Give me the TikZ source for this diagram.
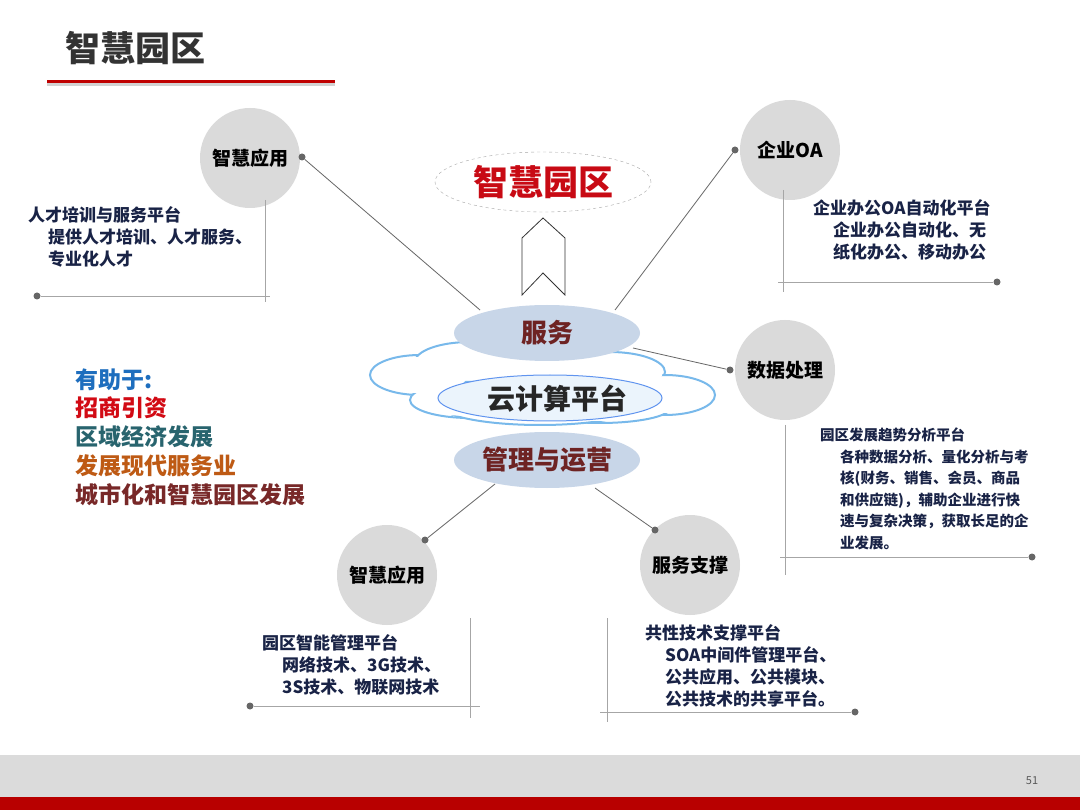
\documentclass[tikz,border=0pt]{standalone}
\usepackage{fontspec}
\setmainfont{Noto Sans CJK SC}
\usetikzlibrary{shapes.geometric}
\definecolor{navy}{RGB}{25,35,70}
\definecolor{circ}{RGB}{218,218,218}
\definecolor{ellf}{RGB}{200,214,232}
\definecolor{drk}{RGB}{110,35,35}
\definecolor{redt}{RGB}{200,10,20}
\definecolor{cl}{RGB}{120,185,235}
\tikzset{
 gc/.style={circle,fill=circ,minimum size=100pt,inner sep=0pt,font=\bfseries\fontsize{19}{19}\selectfont,text=black},
 ln/.style={draw=gray!80!black,line width=0.8pt},
 br/.style={draw=gray!70,line width=0.9pt},
 dt/.style={circle,fill=gray!80!black,inner sep=0pt,minimum size=7pt},
 body/.style={align=left,anchor=north west,inner sep=0pt,text=navy,font=\bfseries\fontsize{17}{22}\selectfont},
 mid/.style={ellipse,fill=ellf,minimum width=186pt,minimum height=56pt,inner sep=0pt,text=drk,font=\bfseries\fontsize{26}{26}\selectfont},
 lst/.style={anchor=west,inner sep=0pt,font=\bfseries\fontsize{23}{23}\selectfont}
}
\begin{document}
\begin{tikzpicture}[x=1pt,y=-1pt]
\useasboundingbox (0,0) rectangle (1080,810);
\fill[white] (0,0) rectangle (1080,810);
% footer
\fill[black!14] (0,755) rectangle (1080,797);
\fill[red!72!black] (0,797) rectangle (1080,810);
\node[font=\fontsize{11}{11}\selectfont,text=gray!70!black] (pg) at (1032,781) {51};
% title
\node[anchor=west,inner sep=0pt,font=\bfseries\fontsize{35}{35}\selectfont,text=black!80] (title) at (65,48) {智慧园区};
\fill[gray!35] (47,83) rectangle (335,86);
\fill[red!75!black] (47,80) rectangle (335,83);
% circles
\node[gc] (c1) at (250,158) {智慧应用};
\node[gc] (c2) at (790,150) {企业OA};
\node[gc] (c3) at (785,370) {数据处理};
\node[gc] (c4) at (387,575) {智慧应用};
\node[gc] (c5) at (690,565) {服务支撑};
% cloud
\begin{scope}
\foreach \x/\y/\rx/\ry in {420/375/50/20, 470/362/55/20, 540/368/60/22, 610/372/55/20, 665/395/50/20, 600/408/70/15, 470/400/60/18, 540/405/100/20}{
  \draw[cl,line width=2pt,fill=white] (\x,\y) ellipse [x radius=\rx,y radius=\ry];}
\foreach \x/\y/\rx/\ry in {420/375/48/18, 470/362/53/18, 540/368/58/20, 610/372/53/18, 665/395/48/18, 600/408/68/13, 470/400/58/16, 540/405/98/18}{
  \fill[white] (\x,\y) ellipse [x radius=\rx,y radius=\ry];}
\draw[cl!80!blue,line width=1pt,fill=cl!15] (550,398) ellipse [x radius=112,y radius=23];
\end{scope}
\node[font=\bfseries\fontsize{28}{28}\selectfont,text=black!85] (yun) at (557,399) {云计算平台};
\node[mid] (fw) at (547,333) {服务};
\node[mid] (gl) at (547,460) {管理与运营};
% top
\node[ellipse,draw=gray!70,dashed,minimum width=216pt,minimum height=60pt,inner sep=0pt,text=redt,font=\bfseries\fontsize{35}{35}\selectfont] (top) at (543,182) {智慧园区};
\draw[black!80,line width=0.8pt,fill=white] (522,295) -- (522,238) -- (543,218) -- (565,238) -- (565,295) -- (543,273) -- cycle;
% connectors
\coordinate (a1) at (480,310); \coordinate (a2) at (615,310);
\coordinate (a3) at (633,348); \coordinate (a4) at (495,484); \coordinate (a5) at (595,488);
\node[dt] (d1) at (302,157) {}; \node[dt] (d2) at (735,150) {};
\node[dt] (d3) at (730,370) {}; \node[dt] (d4) at (425,540) {}; \node[dt] (d5) at (655,530) {};
\draw[ln] (d1) -- (a1); \draw[ln] (d2) -- (a2); \draw[ln] (d3) -- (a3);
\draw[ln] (d4) -- (a4); \draw[ln] (d5) -- (a5);
% text blocks
\node[body] (t1) at (28,206) {人才培训与服务平台\\\hspace{20pt}提供人才培训、人才服务、\\\hspace{20pt}专业化人才};
\draw[br] (265,200) -- (265,302); \node[dt] (e1) at (37,296) {}; \draw[br] (e1) -- (270,296);
\node[body] (t2) at (813,199) {企业办公OA自动化平台\\\hspace{20pt}企业办公自动化、无\\\hspace{20pt}纸化办公、移动办公};
\draw[br] (783,190) -- (783,292); \node[dt] (e2) at (997,282) {}; \draw[br] (778,282) -- (e2);
\node[body,font=\bfseries\fontsize{14.5}{21.5}\selectfont] (t3) at (820,428) {园区发展趋势分析平台\\\hspace{20pt}各种数据分析、量化分析与考\\\hspace{20pt}核(财务、销售、会员、商品\\\hspace{20pt}和供应链)，辅助企业进行快\\\hspace{20pt}速与复杂决策，获取长足的企\\\hspace{20pt}业发展。};
\draw[br] (785,425) -- (785,575); \node[dt] (e3) at (1032,557) {}; \draw[br] (780,557) -- (e3);
\node[body] (t4) at (262,634) {园区智能管理平台\\\hspace{20pt}网络技术、3G技术、\\\hspace{20pt}3S技术、物联网技术};
\draw[br] (470,618) -- (470,718); \node[dt] (e4) at (250,706) {}; \draw[br] (e4) -- (480,706);
\node[body] (t5) at (645,624) {共性技术支撑平台\\\hspace{20pt}SOA中间件管理平台、\\\hspace{20pt}公共应用、公共模块、\\\hspace{20pt}公共技术的共享平台。};
\draw[br] (607,618) -- (607,722); \node[dt] (e5) at (855,712) {}; \draw[br] (600,712) -- (e5);
% left list
\node[lst,text={rgb,255:red,30;green,110;blue,190}] (l0) at (75,380) {有助于:};
\node[lst,text={rgb,255:red,210;green,10;blue,20}] (l1) at (75,408) {招商引资};
\node[lst,text={rgb,255:red,40;green,100;blue,110}] (l2) at (75,437) {区域经济发展};
\node[lst,text={rgb,255:red,190;green,90;blue,20}] (l3) at (75,466) {发展现代服务业};
\node[lst,text={rgb,255:red,120;green,40;blue,40}] (l4) at (75,495) {城市化和智慧园区发展};
\end{tikzpicture}
\end{document}
